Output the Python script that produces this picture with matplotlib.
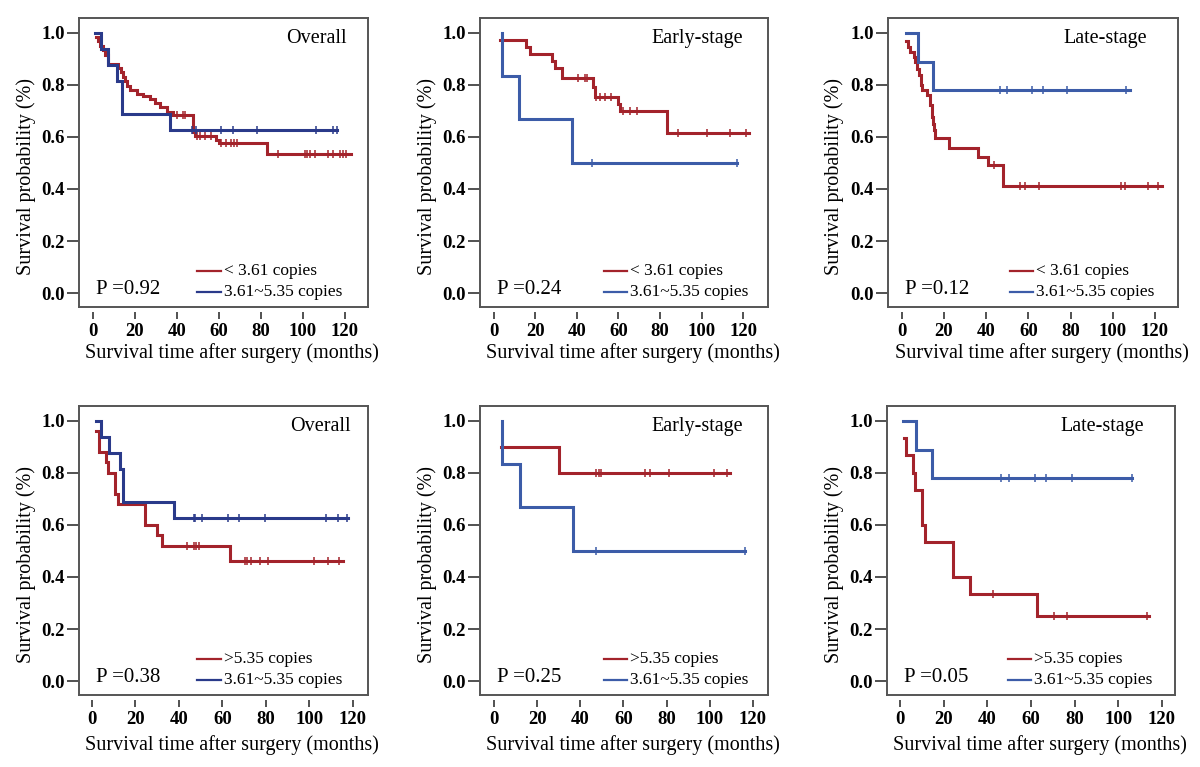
import matplotlib
matplotlib.use("Agg")
import matplotlib.pyplot as plt
import numpy as np

plt.rcParams['font.family'] = ['Liberation Serif', 'DejaVu Serif']

RED = "#A3232B"
NAVY = "#2A3A8A"
BLUE = "#3C5CA8"

titles = ["Overall", "Early-stage", "Late-stage", "Overall", "Early-stage", "Late-stage"]
p_values = ["P =0.92", "P =0.24", "P =0.12", "P =0.38", "P =0.25", "P =0.05"]
red_labels = ["< 3.61 copies"] * 3 + [">5.35 copies"] * 3
blue_label = "3.61~5.35 copies"
x_ticks = [0, 20, 40, 60, 80, 100, 120]
y_ticks = [0.0, 0.2, 0.4, 0.6, 0.8, 1.0]

# --- top row: < 3.61 copies (red) vs 3.61~5.35 copies (blue) ---
p1_red_t = [1.5, 2.5, 3.5, 4.5, 5.5, 7.0, 12.0, 13.5, 14.5, 15.0, 16.0, 17.5, 21.0, 24.0,
            27.0, 29.5, 32.0, 35.0, 38.0, 47.5, 48.5, 58.5, 60.0, 83.0]
p1_red_s = [0.983, 0.966, 0.949, 0.932, 0.915, 0.881, 0.864, 0.847, 0.830, 0.813, 0.796,
            0.779, 0.765, 0.755, 0.745, 0.728, 0.713, 0.697, 0.683, 0.620, 0.603, 0.589,
            0.575, 0.535]
p1_red_c = [40, 43, 44, 49.5, 51, 53.3, 56, 61, 63.5, 65.5, 67, 68.5, 88.3, 101, 102,
            103.3, 105.7, 112, 114.4, 117.6, 119.2, 120.5]
p1_red_end = 123.0
p1_blue_t = [1.0, 4.0, 7.0, 11.6, 14.0, 36.7]
p1_blue_s = [1.0, 0.9375, 0.875, 0.8125, 0.6875, 0.625]
p1_blue_c = [47, 49, 61, 66.5, 78, 106, 114.4, 116]
p1_blue_end = 116.0

p2_red_t = [3.0, 15.4, 17.3, 28.2, 29.4, 33.0, 47.5, 48.5, 59.8, 60.5, 83.5]
p2_red_s = [0.973, 0.946, 0.919, 0.892, 0.865, 0.824, 0.790, 0.753, 0.725, 0.700, 0.615]
p2_red_c = [40.6, 43.8, 45, 49.4, 51, 53.4, 56.2, 62, 65.5, 68.7, 88.7, 102.4, 113.6, 121.6]
p2_red_end = 122.9
p2_blue_t = [4.0, 4.0, 12.0, 37.4]
p2_blue_s = [1.0, 0.833, 0.667, 0.5]
p2_blue_c = [47, 117.3]
p2_blue_end = 117.3

p3_red_t = [2.0, 3.0, 4.0, 5.5, 6.2, 7.0, 8.0, 9.0, 9.5, 11.9, 13.2, 14.3, 14.8, 15.2,
            15.9, 22.2, 36.0, 40.8, 48.1]
p3_red_s = [0.968, 0.945, 0.926, 0.906, 0.887, 0.862, 0.836, 0.798, 0.779, 0.760, 0.721,
            0.677, 0.651, 0.626, 0.594, 0.556, 0.523, 0.490, 0.410]
p3_red_c = [43.7, 55.9, 58.5, 65.2, 104.1, 105.7, 116.8, 121.6]
p3_red_end = 123.2
p3_blue_t = [2.0, 7.5, 14.8]
p3_blue_s = [1.0, 0.889, 0.778]
p3_blue_c = [46.4, 50, 61.7, 66.8, 78.4, 106.5]
p3_blue_end = 108.0

# --- bottom row: >5.35 copies (red) vs 3.61~5.35 copies (blue) ---
p4_red_t = [2.0, 3.0, 6.5, 7.2, 10.5, 12.0, 24.3, 29.7, 32.0, 63.5]
p4_red_s = [0.96, 0.88, 0.84, 0.80, 0.72, 0.68, 0.60, 0.56, 0.52, 0.46]
p4_red_c = [43.5, 46.7, 47.9, 49.4, 70.6, 71.4, 73.3, 77.3, 81.2, 102.3, 108.5, 113.8]
p4_red_end = 115.4
p4_blue_t = [2.0, 4.0, 7.7, 12.8, 14.3, 37.5]
p4_blue_s = [1.0, 0.9375, 0.875, 0.8125, 0.6875, 0.625]
p4_blue_c = [46.7, 47.2, 50.6, 62.6, 67.6, 79.6, 107.7, 113, 117.5]
p4_blue_end = 118.0

p5_red_t = [3.4, 30.1]
p5_red_s = [0.9, 0.8]
p5_red_c = [47.4, 48.5, 49.7, 69.8, 72.4, 81.1, 102.2, 108.1]
p5_red_end = 109.2
p5_blue_t = [3.7, 3.7, 11.9, 36.6]
p5_blue_s = [1.0, 0.833, 0.667, 0.5]
p5_blue_c = [47.1, 116.4]
p5_blue_end = 116.4

p6_red_t = [1.8, 2.75, 6.1, 6.9, 9.9, 11.5, 24.2, 31.9, 62.8]
p6_red_s = [0.933, 0.867, 0.800, 0.733, 0.600, 0.533, 0.400, 0.333, 0.250]
p6_red_c = [42.8, 70.6, 76.4, 113.1]
p6_red_end = 113.9
p6_blue_t = [1.5, 7.3, 14.5]
p6_blue_s = [1.0, 0.889, 0.778]
p6_blue_c = [46.3, 49.7, 61.9, 66.8, 78.7, 106.2]
p6_blue_end = 106.2

red_curves = [(p1_red_t, p1_red_s, p1_red_c, p1_red_end),
              (p2_red_t, p2_red_s, p2_red_c, p2_red_end),
              (p3_red_t, p3_red_s, p3_red_c, p3_red_end),
              (p4_red_t, p4_red_s, p4_red_c, p4_red_end),
              (p5_red_t, p5_red_s, p5_red_c, p5_red_end),
              (p6_red_t, p6_red_s, p6_red_c, p6_red_end)]
blue_curves = [(p1_blue_t, p1_blue_s, p1_blue_c, p1_blue_end),
               (p2_blue_t, p2_blue_s, p2_blue_c, p2_blue_end),
               (p3_blue_t, p3_blue_s, p3_blue_c, p3_blue_end),
               (p4_blue_t, p4_blue_s, p4_blue_c, p4_blue_end),
               (p5_blue_t, p5_blue_s, p5_blue_c, p5_blue_end),
               (p6_blue_t, p6_blue_s, p6_blue_c, p6_blue_end)]
blue_colors = [NAVY, BLUE, BLUE, NAVY, BLUE, BLUE]

# axes boxes in pixels: left, right, top, bottom
boxes = [(79, 368, 18, 307), (480, 768, 18, 307), (888, 1178, 18, 307),
         (79, 368, 406, 695), (480, 768, 406, 695), (887, 1175, 406, 695)]
xlims = [(-6.7, 131), (-6.7, 132), (-6.6, 131), (-6, 127), (-6.5, 127), (-6, 126)]
title_x = [0.927, 0.913, 0.893, 0.94, 0.913, 0.893]
leg_x = [0.41, 0.43, 0.42, 0.41, 0.43, 0.42]
xlabel_y = [-0.125, -0.125, -0.125, -0.14, -0.14, -0.14]


def draw_km(ax, t, s, cens, end, color):
    t = np.asarray(t, float)
    s = np.asarray(s, float)
    tt = np.append(t, end)
    ss = np.append(s, s[-1])
    ax.step(tt, ss, where='post', color=color, linewidth=2.2, solid_joinstyle='miter')
    idx = np.searchsorted(t, cens, side='right') - 1
    ax.plot(cens, s[idx], linestyle='none', marker='|', markersize=6,
            markeredgewidth=1.1, color=color)


W, H = 1200, 767
fig = plt.figure(figsize=(12, 7.67), dpi=100)

for i in range(6):
    l, r, tp, b = boxes[i]
    ax = fig.add_axes([l / W, 1 - b / H, (r - l) / W, (b - tp) / H])
    draw_km(ax, *red_curves[i], RED)
    draw_km(ax, *blue_curves[i], blue_colors[i])

    ax.set_xlim(*xlims[i])
    ax.set_ylim(-0.053, 1.056)
    ax.set_yticks(y_ticks)
    ax.set_yticklabels([f"{v:.1f}" for v in y_ticks])
    ax.tick_params(axis='y', direction='out', length=9, width=1.2, pad=1,
                   labelsize=13.5, color='#333333')
    ax.set_xticks(x_ticks)
    ax.tick_params(axis='x', length=0, labelbottom=False)

    # x ticks sit a little below the frame
    sec = ax.secondary_xaxis(-0.018)
    sec.spines['bottom'].set_visible(False)
    sec.set_xticks(x_ticks)
    sec.tick_params(axis='x', direction='out', length=5, width=1.2, pad=3,
                    labelsize=13.5, color='#333333')
    for lab in sec.get_xticklabels() + ax.get_yticklabels():
        lab.set_fontweight('bold')
    for sp in ax.spines.values():
        sp.set_color('#555555')
        sp.set_linewidth(1.4)

    ax.set_xlabel("Survival time after surgery (months)", fontsize=14.5)
    ax.set_ylabel("Survival probability (%)", fontsize=14.5)
    ax.xaxis.set_label_coords(0.53, xlabel_y[i])
    ax.yaxis.set_label_coords(-0.15, 0.45)

    ax.text(title_x[i], 0.93, titles[i], transform=ax.transAxes, ha='right',
            va='center', fontsize=14.5)
    ax.text(0.06, 0.06, p_values[i], transform=ax.transAxes, ha='left',
            va='center', fontsize=15)

    lx = leg_x[i]
    ax.plot([lx, lx + 0.08], [0.125, 0.125], color=RED, linewidth=1.6,
            transform=ax.transAxes)
    ax.plot([lx, lx + 0.08], [0.052, 0.052], color=blue_colors[i], linewidth=1.6,
            transform=ax.transAxes)
    ax.text(lx + 0.09, 0.125, red_labels[i], transform=ax.transAxes, ha='left',
            va='center', fontsize=12.5)
    ax.text(lx + 0.09, 0.052, blue_label, transform=ax.transAxes, ha='left',
            va='center', fontsize=12.5)

fig.savefig("out.png", dpi=100)
